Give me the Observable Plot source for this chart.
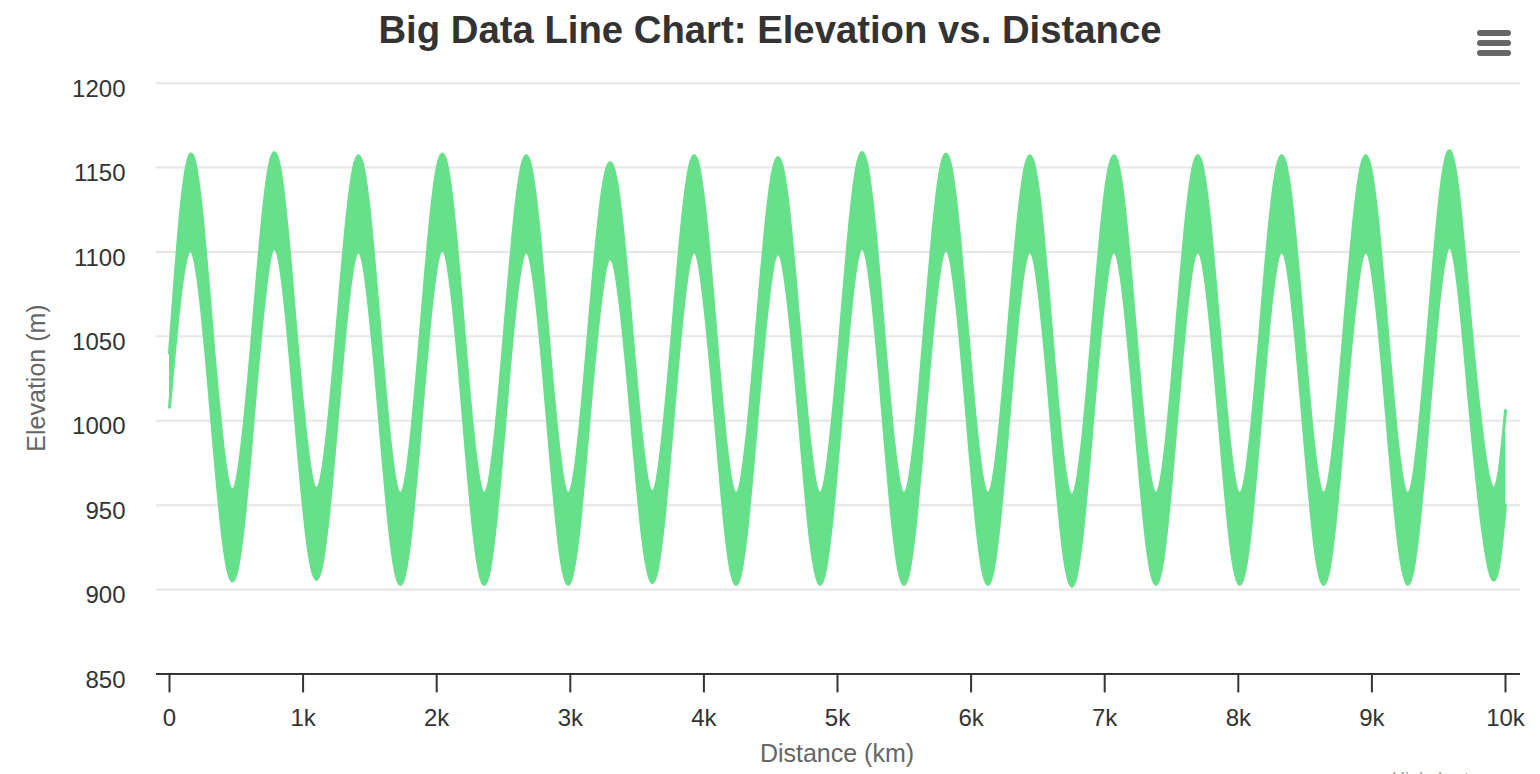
<!DOCTYPE html>
<html>
<head>
<meta charset="utf-8">
<script src="https://cdn.jsdelivr.net/npm/d3@7"></script>
<script src="https://cdn.jsdelivr.net/npm/@observablehq/plot@0.6"></script>
<style>
  html, body { margin: 0; padding: 0; background: #fff; overflow: hidden; }
  #wrap { position: relative; width: 1540px; height: 774px; overflow: hidden; font-family: "Liberation Sans", Arial, Helvetica, sans-serif; }
  #chart { position: absolute; left: 0; top: 0; }
  .title { position: absolute; left: 0; top: 10.8px; width: 1540px; text-align: center; font-size: 38.3px; line-height: 38px; font-weight: bold; color: #333; white-space: nowrap; }
  .ytitle { position: absolute; left: 35.5px; top: 378px; font-size: 25px; line-height: 25px; color: #666; white-space: nowrap; transform: translate(-50%, -50%) rotate(-90deg); }
  .xtitle { position: absolute; left: 0; width: 1674px; top: 740.8px; text-align: center; font-size: 25px; line-height: 25px; color: #666; white-space: nowrap; }
  .credits { position: absolute; right: 23px; top: 769.8px; font-size: 18px; line-height: 18px; color: #999; white-space: nowrap; }
  .menu div { position: absolute; left: 1477px; width: 34px; height: 6px; border-radius: 3px; background: #666; }
</style>
</head>
<body>
<div id="wrap">
  <div id="chart"></div>
  <div class="title">Big Data Line Chart: Elevation vs. Distance</div>
  <div class="ytitle">Elevation (m)</div>
  <div class="xtitle">Distance (km)</div>
  <div class="credits">Highcharts.com</div>
  <div class="menu"><div style="top:30px"></div><div style="top:40px"></div><div style="top:50px"></div></div>
</div>
<script>
// Distance (km) at key points of each wave: rising crossing, crest, falling crossing, trough
const distance = [0,157,314,471,628,785,942,1100,1257,1414,1571,1728,1885,2042,2199,2356,2513,2670,2827,2985,3142,3299,3456,3613,3770,3927,4084,4241,4398,4555,4712,4869,5027,5184,5341,5498,5655,5812,5969,6126,6283,6440,6597,6754,6912,7069,7226,7383,7540,7697,7854,8011,8168,8325,8482,8639,8796,8954,9111,9268,9425,9582,9739,9896,10000];

// Upper edge of the noisy elevation band (m)
const elevHigh = [
  1040, 1158,1058,959,1058,
  1159,1058,960,1058,
  1157,1058,957,1058,
  1158,1058,957,1058,
  1157,1058,957,1058,
  1153,1058,958,1058,
  1157,1058,957,1058,
  1156,1058,957,1058,
  1159,1058,957,1058,
  1158,1058,957,1058,
  1157,1058,956,1058,
  1157,1058,957,1058,
  1157,1058,957,1058,
  1157,1058,957,1058,
  1157,1058,957,1058,
  1160,1058,961,1006];

// Lower edge of the noisy elevation band (m)
const elevLow = [
  1008, 1101,1002,905,1002,
  1102,1002,906,1002,
  1100,1002,903,1002,
  1101,1002,903,1002,
  1100,1002,903,1002,
  1096,1002,904,1002,
  1100,1002,903,1002,
  1099,1002,903,1002,
  1102,1002,903,1002,
  1101,1002,903,1002,
  1100,1002,902,1002,
  1100,1002,903,1002,
  1100,1002,903,1002,
  1100,1002,903,1002,
  1100,1002,903,1002,
  1103,1002,907,950];

const xTicks = [0,1000,2000,3000,4000,5000,6000,7000,8000,9000,10000];
const xTickLabels = ["0","1k","2k","3k","4k","5k","6k","7k","8k","9k","10k"];
const yTicks = [850,900,950,1000,1050,1100,1150,1200];
const yTickLabels = ["850","900","950","1000","1050","1100","1150","1200"];

const green = "#66e08a";
const series = distance.map((d, i) => ({distance: d, high: elevHigh[i], low: elevLow[i]}));

const chart = Plot.plot({
  width: 1540,
  height: 774,
  marginLeft: 156,
  marginRight: 20,
  marginTop: 82.7,
  marginBottom: 100.6,
  x: {domain: [-97.3, 10112.3]},
  y: {domain: [850, 1200]},
  style: {fontFamily: "'Liberation Sans', Arial, Helvetica, sans-serif", background: "transparent", overflow: "visible"},
  marks: [
    Plot.ruleY(yTicks.slice(1), {stroke: "#e6e6e6", strokeWidth: 2}),
    Plot.areaY(series, {x: "distance", y1: "low", y2: "high", fill: green, curve: "natural"}),
    Plot.lineY(series, {x: "distance", y: "low", stroke: green, strokeWidth: 3, curve: "natural"}),
    Plot.lineY(series, {x: "distance", y: "high", stroke: green, strokeWidth: 3, curve: "natural"}),
    Plot.ruleY([850], {stroke: "#333", strokeWidth: 2}),
    Plot.axisX({ticks: xTicks, tickFormat: (d) => xTickLabels[xTicks.indexOf(d)], tickSize: 19, tickPadding: 16, fontSize: 24, color: "#333", strokeWidth: 2, label: null}),
    Plot.axisY({ticks: yTicks, tickFormat: (d) => yTickLabels[yTicks.indexOf(d)], tickSize: 0, tickPadding: 31, fontSize: 24, color: "#333", dy: 6, label: null})
  ]
});
document.getElementById("chart").appendChild(chart);
</script>
</body>
</html>
